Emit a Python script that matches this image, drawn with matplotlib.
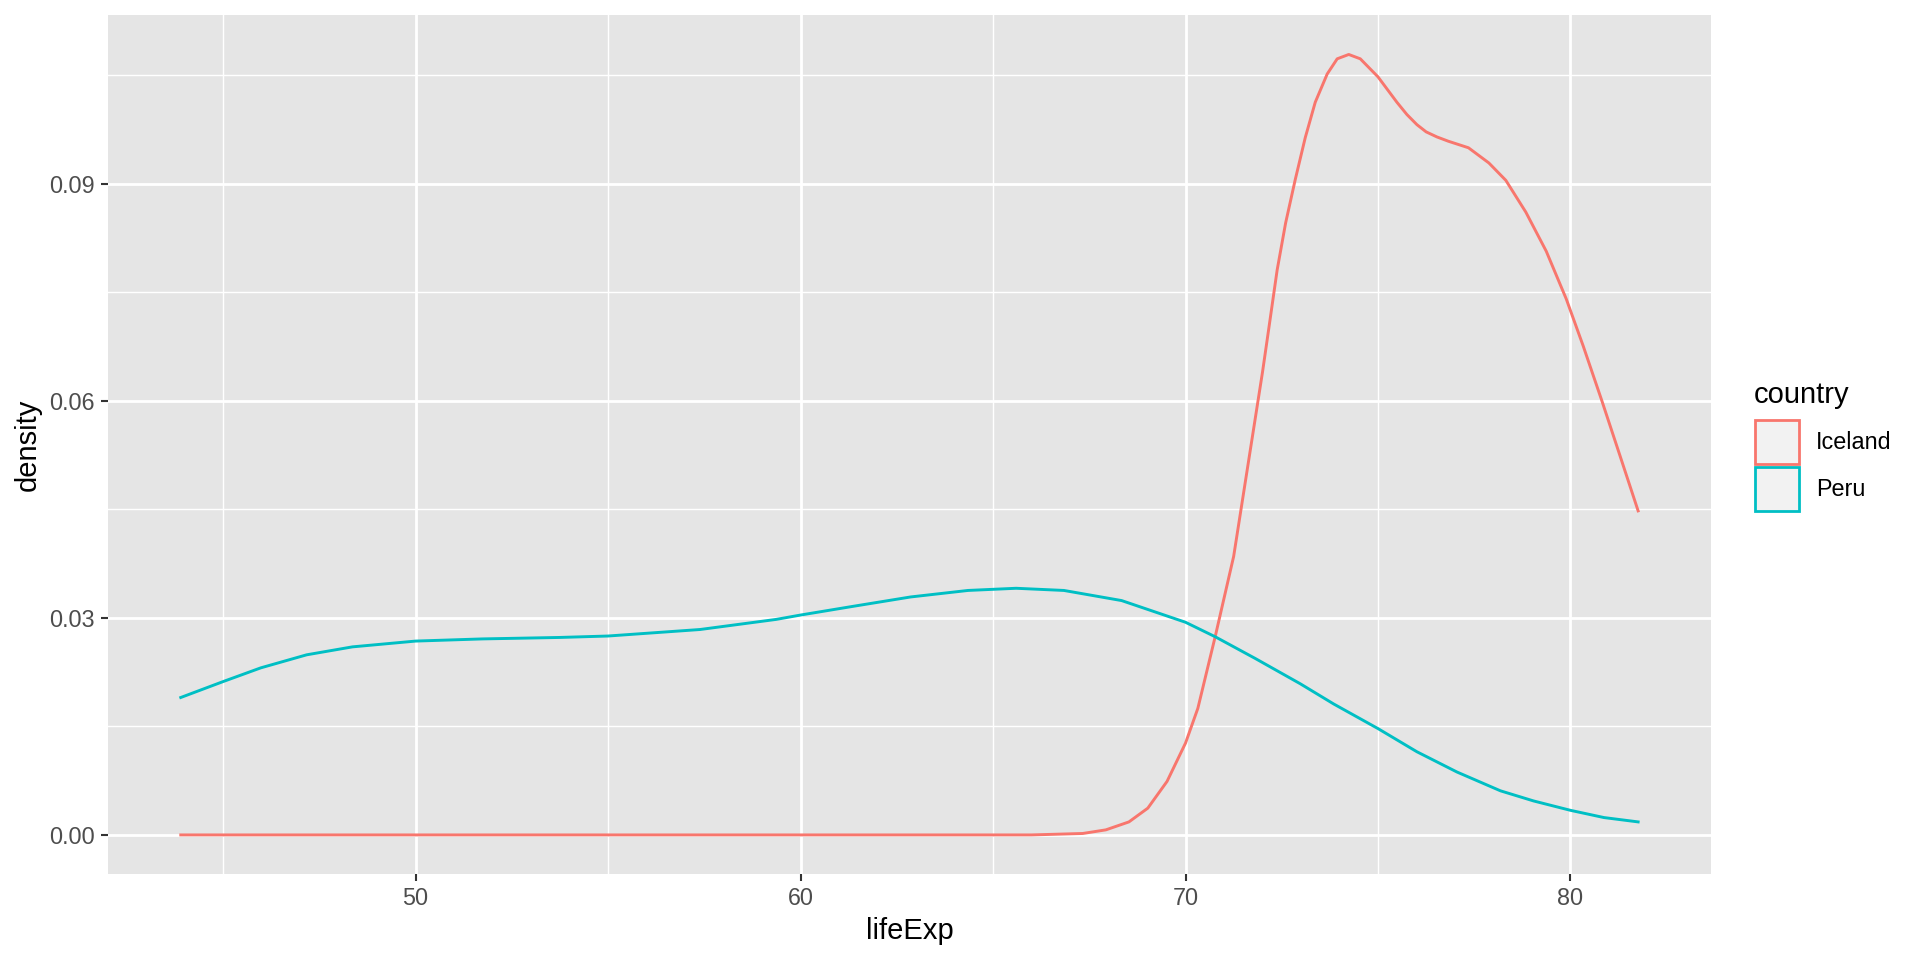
import matplotlib
matplotlib.use("Agg")
import matplotlib.pyplot as plt
from matplotlib.patches import Patch

# density curves (lifeExp vs density)
iceland_x = [43.90, 50.0, 55.0, 60.0, 64.0, 66.0, 67.33, 67.93, 68.53, 69.02,
             69.52, 70.0, 70.32, 70.77, 71.25, 71.5, 71.75, 72.0, 72.16, 72.38,
             72.60, 72.85, 73.11, 73.37, 73.68, 73.94, 74.24, 74.54, 75.0, 75.49,
             75.75, 76.01, 76.25, 76.53, 76.83, 77.35, 77.88, 78.32, 78.84, 79.37,
             79.89, 80.33, 80.81, 81.30, 81.757]
iceland_y = [0.0, 0.0, 0.0, 0.0, 0.0, 0.0, 0.0002, 0.0007, 0.0018, 0.0037,
             0.0074, 0.0127, 0.0175, 0.0274, 0.0385, 0.0470, 0.0555, 0.0640, 0.0699, 0.0781,
             0.0846, 0.0906, 0.0964, 0.1013, 0.1052, 0.1073, 0.1079, 0.1073, 0.1048, 0.1013,
             0.0996, 0.0982, 0.0972, 0.0965, 0.0959, 0.0950, 0.0929, 0.0905, 0.0861, 0.0807,
             0.0741, 0.0676, 0.0601, 0.0522, 0.0448]

peru_x = [43.90, 45.0, 45.98, 47.17, 48.36, 50.0, 51.74, 53.73, 55.0, 57.39,
          59.37, 60.0, 61.36, 62.86, 64.35, 65.6, 66.84, 68.34, 70.0, 70.77,
          71.81, 72.98, 73.85, 75.0, 76.01, 77.05, 78.18, 79.04, 80.0, 80.87,
          81.757]
peru_y = [0.0190, 0.0212, 0.0231, 0.0249, 0.0260, 0.0268, 0.0271, 0.0273, 0.0275, 0.0284,
          0.0298, 0.0304, 0.0316, 0.0329, 0.0338, 0.0341, 0.0338, 0.0324, 0.0294, 0.0274,
          0.0244, 0.0209, 0.0181, 0.0147, 0.0115, 0.0087, 0.0061, 0.0047, 0.0034, 0.0024,
          0.0018]

countries = ["Iceland", "Peru"]
colors = ["#F8766D", "#00BFC4"]

x_major = [50, 60, 70, 80]
x_minor = [45, 55, 65, 75]
y_major = [0.00, 0.03, 0.06, 0.09]
y_minor = [0.015, 0.045, 0.075, 0.105]

plt.rcParams['font.family'] = ['Liberation Sans', 'DejaVu Sans']

fig = plt.figure(figsize=(19.2, 9.6), dpi=100)
ax = fig.add_axes([0.05625, 0.0896, 0.8349, 0.8951])
ax.set_facecolor("#E5E5E5")
for s in ax.spines.values():
    s.set_visible(False)

ax.set_xticks(x_major)
ax.set_xticks(x_minor, minor=True)
ax.set_yticks(y_major)
ax.set_yticks(y_minor, minor=True)
ax.set_yticklabels(["%.2f" % v for v in y_major])
ax.grid(True, which="major", color="white", linewidth=2.0)
ax.grid(True, which="minor", color="white", linewidth=1.0)
ax.set_axisbelow(True)
ax.tick_params(which="major", length=5, width=1.5, color="#333333",
               labelcolor="#4D4D4D", labelsize=16.8, pad=4.5)
ax.tick_params(which="minor", length=0)

ax.plot(iceland_x, iceland_y, color=colors[0], linewidth=2.1)
ax.plot(peru_x, peru_y, color=colors[1], linewidth=2.1)

ax.set_xlim(42.01, 83.65)
ax.set_ylim(-0.0054, 0.1134)
ax.set_xlabel("lifeExp", fontsize=21, labelpad=5)
ax.set_ylabel("density", fontsize=21, labelpad=5.5)

# legend: title as text, keys as square boxes outlined in the line colour
fig.text(1754 / 1920, 1 - 403 / 960, "country", fontsize=21, va="baseline", ha="left")
handles = [Patch(facecolor="#F2F2F2", edgecolor=c, linewidth=2.0) for c in colors]
fig.legend(handles, countries, loc="upper left",
           bbox_to_anchor=(1755 / 1920, 1 - 420 / 960), frameon=False, fontsize=16.8,
           handlelength=1.888, handleheight=2.528, labelspacing=0.13,
           handletextpad=0.73, borderaxespad=0, borderpad=0)

fig.savefig("out.png", dpi=100)
